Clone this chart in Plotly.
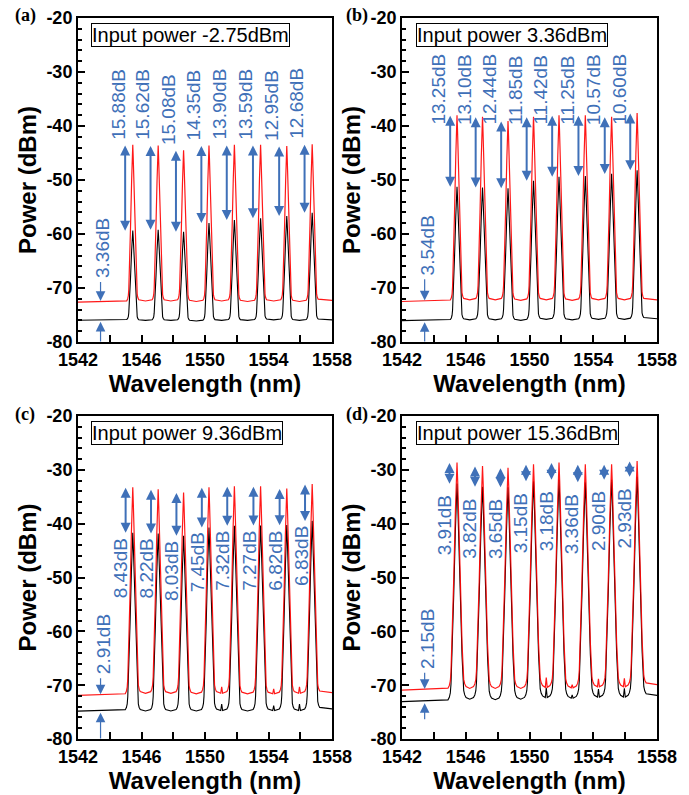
import plotly.graph_objects as go

# ---------------------------------------------------------------- data
# Channel centre wavelengths (nm)
PEAK_NM = [1545.45, 1547.05, 1548.65, 1550.25, 1551.85, 1553.50, 1555.15, 1556.75]

X_TICKS = [1542, 1544, 1546, 1548, 1550, 1552, 1554, 1556, 1558]
X_TICK_TEXT = ["1542", "", "1546", "", "1550", "", "1554", "", "1558"]
Y_TICKS = [-80, -70, -60, -50, -40, -30, -20]
Y_TICK_TEXT = ["-80", "-70", "-60", "-50", "-40", "-30", "-20"]
Y_MINOR = [-78, -76, -74, -72, -68, -66, -64, -62, -58, -56, -54, -52,
           -48, -46, -44, -42, -38, -36, -34, -32, -28, -26, -24, -22]

INPUT_POWER = ["-2.75dBm", "3.36dBm", "9.36dBm", "15.36dBm"]
PANEL_TAG = ["(a)", "(b)", "(c)", "(d)"]

# peak power of the red (amplified) spectrum, dBm
RED_PEAK_A = [-43.5, -43.6, -44.5, -43.6, -43.5, -43.5, -43.7, -43.4]
RED_PEAK_B = [-38.0, -38.3, -39.1, -38.3, -38.0, -38.0, -38.3, -37.6]
RED_PEAK_C = [-33.25, -33.6, -34.2, -33.25, -33.05, -33.05, -33.45, -32.65]
RED_PEAK_D = [-28.65, -29.3, -29.6, -28.95, -28.65, -28.95, -28.95, -28.35]

# per-channel gain (red peak minus black peak), dB
GAIN_A = [15.88, 15.62, 15.08, 14.35, 13.90, 13.59, 12.95, 12.68]
GAIN_B = [13.25, 13.10, 12.44, 11.85, 11.42, 11.25, 10.57, 10.60]
GAIN_C = [8.43, 8.22, 8.03, 7.45, 7.32, 7.27, 6.82, 6.83]
GAIN_D = [3.91, 3.82, 3.65, 3.15, 3.18, 3.36, 2.90, 2.93]

# noise-floor level in each gap (left edge, 7 inter-channel gaps, right edge), dBm
RED_FLOOR_A = [-72.6, -72.4, -72.4, -72.5, -72.4, -72.5, -72.4, -72.5, -72.3]
RED_FLOOR_B = [-72.5, -72.2, -72.2, -72.3, -72.2, -72.3, -72.2, -72.2, -72.2]
RED_FLOOR_C = [-71.9, -71.5, -71.5, -71.6, -71.5, -71.6, -71.6, -71.5, -71.4]
RED_FLOOR_D = [-70.9, -70.6, -70.6, -70.6, -70.4, -70.5, -70.3, -70.3, -69.9]
BLACK_FLOOR_A = [None, -76.0, -76.0, -76.1, -76.0, -76.0, -75.9, -76.0, -75.9]
BLACK_FLOOR_B = [None, -75.9, -75.9, -76.0, -75.8, -75.9, -75.8, -75.8, -75.7]
BLACK_FLOOR_C = [None, -74.8, -74.8, -74.8, -74.7, -74.8, -74.7, -74.7, -74.4]
BLACK_FLOOR_D = [None, -72.6, -72.7, -72.6, -72.3, -72.4, -72.2, -72.2, -71.9]

# small spurious line in the middle of some gaps, dB above the floor
GAP_BUMP_A = [0, 0, 0, 0, 0, 0, 0, 0, 0]
GAP_BUMP_B = [0, 0, 0, 0, 0, 0, 0, 0, 0]
GAP_BUMP_C = [0, 0, 0, 0, 1.2, 0, 0.9, 1.2, 0]
GAP_BUMP_D = [0, 0, 0, 0, 1.8, 0.6, 1.5, 1.6, 0]

# floor difference at the short-wavelength edge, dB
FLOOR_DIFF = [3.36, 3.54, 2.91, 2.15]

# line shape of one channel: normalised offset from centre vs fraction of
# the peak-to-floor span (in dB)
PROFILE_U = [0.0, 0.1, 0.25, 0.5, 0.75, 0.9, 1.0, 1.15, 1.35]
PROFILE_F = [1.0, 0.92, 0.78, 0.48, 0.2, 0.08, 0.04, 0.02, 0.008]

# ---------------------------------------------------------------- styling
BLUE = "#3f70b8"
SANS = "Liberation Sans"
SERIF = "Liberation Serif"

X_DOM = [[0.1132, 0.4819], [0.5835, 0.9536]]
Y_DOM = [[0.5698, 0.9774], [0.0704, 0.4767]]

panels = [
    dict(red=RED_PEAK_A, gain=GAIN_A, rf=RED_FLOOR_A, bf=BLACK_FLOOR_A, bump=GAP_BUMP_A,
         hw=0.28, arrow_dx=-0.48, lab_dx=-0.95, above=True),
    dict(red=RED_PEAK_B, gain=GAIN_B, rf=RED_FLOOR_B, bf=BLACK_FLOOR_B, bump=GAP_BUMP_B,
         hw=0.31, arrow_dx=-0.43, lab_dx=-1.13, above=True),
    dict(red=RED_PEAK_C, gain=GAIN_C, rf=RED_FLOOR_C, bf=BLACK_FLOOR_C, bump=GAP_BUMP_C,
         hw=0.35, arrow_dx=-0.45, lab_dx=-0.72, above=False),
    dict(red=RED_PEAK_D, gain=GAIN_D, rf=RED_FLOOR_D, bf=BLACK_FLOOR_D, bump=GAP_BUMP_D,
         hw=0.42, arrow_dx=-0.47, lab_dx=-0.82, above=False),
]


def spectrum(peaks, floors, bumps, hw):
    xs, ys = [X_TICKS[0]], [floors[0]]
    for k, (c, p) in enumerate(zip(PEAK_NM, peaks)):
        lf, rf = floors[k], floors[k + 1]
        if k > 0:
            mid = (PEAK_NM[k - 1] + c) / 2
            if bumps[k]:
                xs += [mid - 0.06, mid, mid + 0.06]
                ys += [lf, lf + bumps[k], lf]
            else:
                xs.append(mid)
                ys.append(lf)
        for u, f in reversed(list(zip(PROFILE_U[1:], PROFILE_F[1:]))):
            xs.append(c - u * hw)
            ys.append(lf + f * (p - lf))
        xs.append(c)
        ys.append(p)
        for u, f in zip(PROFILE_U[1:], PROFILE_F[1:]):
            xs.append(c + u * hw)
            ys.append(rf + f * (p - rf))
    xs.append(X_TICKS[-1])
    ys.append(floors[-1])
    return xs, ys


def arrow(xr, yr, x, y_tip, y_tail, both=False, width=2.0, size=1.0):
    # bare arrow; a 1px font keeps the empty text box from shortening the shaft
    return dict(x=x, y=y_tip, ax=x, ay=y_tail, xref=xr, yref=yr, axref=xr, ayref=yr,
                text="", font=dict(size=1), borderpad=0, showarrow=True,
                arrowhead=2, startarrowhead=2,
                arrowside="end+start" if both else "end",
                arrowsize=size, startarrowsize=size, arrowwidth=width,
                arrowcolor=BLUE, standoff=0, startstandoff=0)


fig = go.Figure()
annotations = []

for i, pn in enumerate(panels):
    col, row = i % 2, i // 2
    sfx = "" if i == 0 else str(i + 1)
    xr, yr = "x" + sfx, "y" + sfx

    red = pn["red"]
    black = [r - g for r, g in zip(red, pn["gain"])]
    rfl = pn["rf"]
    bfl = [rfl[0] - FLOOR_DIFF[i]] + pn["bf"][1:]

    bx, by = spectrum(black, bfl, pn["bump"], pn["hw"])
    rx, ry = spectrum(red, rfl, pn["bump"], pn["hw"])
    fig.add_trace(go.Scatter(x=bx, y=by, mode="lines", xaxis=xr, yaxis=yr,
                             line=dict(color="black", width=1.1), showlegend=False))
    fig.add_trace(go.Scatter(x=rx, y=ry, mode="lines", xaxis=xr, yaxis=yr,
                             line=dict(color="#ff0000", width=1.2), opacity=0.9,
                             showlegend=False))

    # axes
    fig.layout["xaxis" + sfx] = dict(
        domain=X_DOM[col], range=[1542, 1558], anchor=yr, automargin=False,
        tickmode="array", tickvals=X_TICKS, ticktext=X_TICK_TEXT,
        ticks="inside", ticklen=7, tickwidth=2, tickcolor="black",
        showline=True, linecolor="black", linewidth=2, mirror=True,
        showgrid=False, zeroline=False,
        tickfont=dict(family=SANS, size=18, color="black", weight="bold"),
        title=dict(text="Wavelength (nm)", standoff=0,
                   font=dict(family=SANS, size=24, color="black", weight="bold")),
    )
    fig.layout["yaxis" + sfx] = dict(
        domain=Y_DOM[row], range=[-80, -20], anchor=xr, automargin=False,
        tickmode="array", tickvals=Y_TICKS, ticktext=Y_TICK_TEXT,
        ticks="inside", ticklen=7, tickwidth=2, tickcolor="black",
        minor=dict(tickmode="array", tickvals=Y_MINOR, ticks="inside",
                   ticklen=4, tickwidth=2, tickcolor="black"),
        showline=True, linecolor="black", linewidth=2, mirror=True,
        showgrid=False, zeroline=False,
        tickfont=dict(family=SANS, size=18, color="black", weight="bold"),
        title=dict(text="Power (dBm)", standoff=3,
                   font=dict(family=SANS, size=24, color="black", weight="bold")),
    )

    # input power box
    annotations.append(dict(
        x=1542.85, y=-20.9, xref=xr, yref=yr, xanchor="left", yanchor="top",
        text="Input power " + INPUT_POWER[i], showarrow=False,
        font=dict(family=SANS, size=20, color="black"),
        bordercolor="black", borderwidth=1, borderpad=0, bgcolor="white"))

    # panel tag
    annotations.append(dict(
        x=[0.019, 0.499][col], y=[0.980, 0.479][row], xref="paper", yref="paper",
        xanchor="left", yanchor="middle", text=PANEL_TAG[i], showarrow=False,
        font=dict(family=SERIF, size=18, color="black", weight="bold")))

    # per-channel gain arrows and labels
    for c, r, b, g in zip(PEAK_NM, red, black, pn["gain"]):
        annotations.append(arrow(xr, yr, c + pn["arrow_dx"], b, r, both=True,
                                 width=2.0, size=1.0))
        if pn["above"]:
            ly = r + 0.6 if i == 0 else -40.2
            anc = "bottom"
        else:
            ly = b - (0.6 if i == 2 else 1.8)
            anc = "top"
        annotations.append(dict(
            x=c + pn["lab_dx"], y=ly, xref=xr, yref=yr, xanchor="center",
            yanchor=anc, text="%.2fdB" % g, textangle=-90, showarrow=False,
            font=dict(family=SANS, size=19, color=BLUE)))

    # floor difference marker
    lab_bottom = [-68.5, -68.0, -68.3, -67.3][i]
    up_start = [-80, -80, -80, -76.4][i]
    annotations.append(dict(
        x=1543.58, y=lab_bottom, xref=xr, yref=yr, xanchor="center", yanchor="bottom",
        text="%.2fdB" % FLOOR_DIFF[i], textangle=-90, showarrow=False,
        font=dict(family=SANS, size=19, color=BLUE)))
    annotations.append(arrow(xr, yr, 1543.42, rfl[0] + 0.2, lab_bottom - 0.3,
                             width=1.2, size=1.6))
    annotations.append(arrow(xr, yr, 1543.42, bfl[0] - 0.3, up_start,
                             width=1.2, size=1.6))

fig.update_layout(
    width=689, height=795, margin=dict(l=0, r=0, t=0, b=0),
    paper_bgcolor="white", plot_bgcolor="white",
    annotations=annotations, showlegend=False,
)

fig.write_html("out.html")
